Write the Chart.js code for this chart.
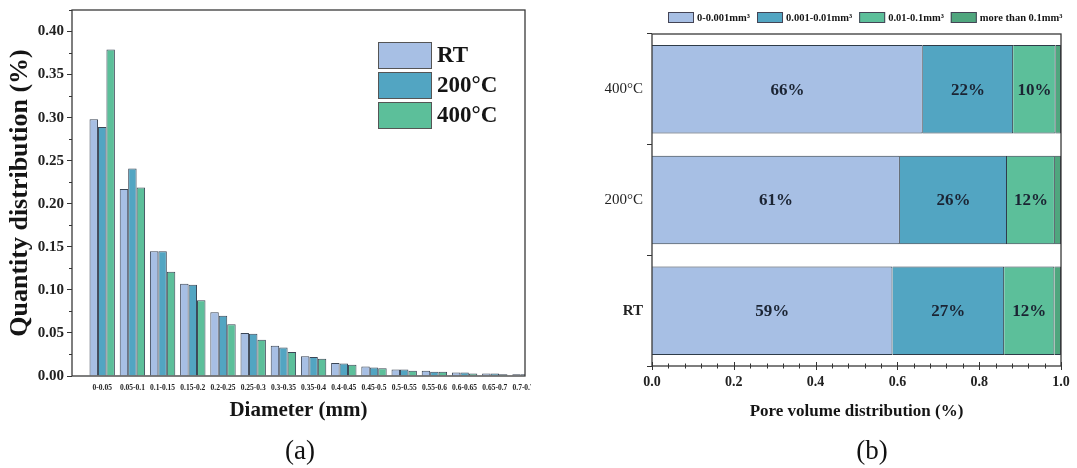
<!DOCTYPE html>
<html>
<head>
<meta charset="utf-8">
<script src="https://cdn.jsdelivr.net/npm/chart.js@4.4.1/dist/chart.umd.min.js"></script>
<style>
html,body{margin:0;padding:0;background:#fff;width:1077px;height:468px;overflow:hidden;}
#wa{position:absolute;left:0;top:0;width:531px;height:468px;}
#wb{position:absolute;left:545px;top:0;width:532px;height:468px;}
.cap{position:absolute;font:27px 'Liberation Serif','Times New Roman',serif;color:#111;transform:translateX(-50%);line-height:31px;}
</style>
</head>
<body>
<div id="wa"><canvas id="ca"></canvas></div>
<div id="wb"><canvas id="cb"></canvas></div>
<div class="cap" style="left:300px;top:435px">(a)</div>
<div class="cap" style="left:872px;top:435px">(b)</div>
<script>
// ---------- data: panel (a) ----------
const diameterBins = ['0-0.05','0.05-0.1','0.1-0.15','0.15-0.2','0.2-0.25','0.25-0.3','0.3-0.35','0.35-0.4','0.4-0.45','0.45-0.5','0.5-0.55','0.55-0.6','0.6-0.65','0.65-0.7','0.7-0.75'];
const quantitySeries = ['RT','200°C','400°C'];
const quantityRT  = [0.298,0.217,0.145,0.107,0.074,0.050,0.035,0.023,0.015,0.011,0.0075,0.006,0.004,0.003,0.002];
const quantity200 = [0.289,0.241,0.145,0.106,0.070,0.049,0.033,0.022,0.0145,0.010,0.0075,0.005,0.004,0.003,0.002];
const quantity400 = [0.379,0.219,0.121,0.088,0.060,0.042,0.028,0.020,0.013,0.009,0.006,0.005,0.003,0.002,0.0015];

// ---------- data: panel (b) ----------
const poreGroups  = ['RT','200°C','400°C'];
const poreClasses = ['0-0.001mm³','0.001-0.01mm³','0.01-0.1mm³','more than 0.1mm³'];
const poreSmall   = [0.588,0.606,0.662];
const poreMedium  = [0.273,0.262,0.221];
const poreLarge   = [0.123,0.117,0.104];
const poreHuge    = [0.016,0.015,0.013];

const SERIF = "'Liberation Serif','Times New Roman',serif";
const INK = '#151515';
const colA = ['#a7bfe4','#52a5c2','#5cbf9a'];
const colB = ['#a7bfe4','#52a5c2','#5cbf9a','#4fa67e'];

const framePlugin = {
  id:'frame',
  afterDraw(chart){
    const a = chart.chartArea, c = chart.ctx;
    c.save(); c.strokeStyle='#3a3a3a'; c.lineWidth=1.3;
    c.strokeRect(a.left, a.top, a.right-a.left, a.bottom-a.top);
    c.restore();
  }
};

// ---------- chart (a) ----------
const minorA = {
  id:'minorA',
  afterDraw(chart){
    const y = chart.scales.y, a = chart.chartArea, c = chart.ctx;
    c.save(); c.strokeStyle='#333'; c.lineWidth=1;
    for (let v=0.025; v<0.425; v+=0.05){
      const p = Math.round(y.getPixelForValue(v))+0.5;
      c.beginPath(); c.moveTo(a.left-3,p); c.lineTo(a.left,p); c.stroke();
    }
    c.restore();
  }
};
const legendA = {
  id:'legendA',
  afterDraw(chart){
    const a = chart.chartArea, c = chart.ctx;
    const x0 = a.right-147, y0 = a.top+32;
    c.save();
    chart.data.datasets.forEach((ds,i)=>{
      const y = y0 + i*30;
      c.fillStyle = ds.backgroundColor; c.fillRect(x0,y,54,27);
      c.strokeStyle='#555'; c.lineWidth=1; c.strokeRect(x0+0.5,y+0.5,53,26);
      c.fillStyle = INK; c.font = 'bold 23px '+SERIF; c.textBaseline='middle'; c.textAlign='left';
      c.fillText(ds.label, x0+59, y+14);
    });
    c.restore();
  }
};

new Chart(document.getElementById('ca'), {
  type:'bar',
  data:{
    datasets:[quantityRT, quantity200, quantity400].map((arr,k)=>({
      label: quantitySeries[k],
      data: arr.map((v,i)=>({x:i, y:v})),
      backgroundColor: colA[k],
      borderColor:'#3b4656',
      borderWidth:1,
      categoryPercentage:0.84,
      barPercentage:1
    }))
  },
  options:{
    responsive:true, maintainAspectRatio:false, animation:false,
    layout:{padding:{left:5,right:6,top:10,bottom:45}, autoPadding:false},
    plugins:{legend:{display:false}, tooltip:{enabled:false}},
    scales:{
      x:{
        type:'linear', min:-1, max:14, offset:false,
        grid:{display:false}, border:{display:false},
        ticks:{stepSize:1, autoSkip:false, maxRotation:0, minRotation:0, includeBounds:false, padding:0, color:'#222',
               font:{family:SERIF,size:7.5,weight:'bold'},
               callback:(v)=>{ const s = diameterBins[Math.round(v)]; return s===undefined ? '' : s; }},
        title:{display:true, text:'Diameter (mm)', color:INK, font:{family:SERIF,size:21,weight:'bold'}, padding:0},
        afterFit:(s)=>{ s.height=47; s.paddingLeft=0; s.paddingRight=0; }
      },
      y:{
        min:0, max:0.425,
        grid:{display:true, drawOnChartArea:false, tickLength:5, color:'#333', lineWidth:1}, border:{display:false},
        ticks:{stepSize:0.05, includeBounds:false, padding:3, color:'#222',
               font:{family:SERIF,size:15,weight:'bold'}, callback:(v)=>Number(v).toFixed(2)},
        title:{display:true, text:'Quantity distribution (%)', color:INK, font:{family:SERIF,size:26,weight:'bold'}, padding:0},
        afterFit:(s)=>{ s.width=67; s.paddingTop=0; s.paddingBottom=0; }
      }
    }
  },
  plugins:[framePlugin, minorA, legendA]
});

// ---------- chart (b) ----------
const barLabelsB = {
  id:'barLabelsB',
  afterDatasetsDraw(chart){
    const c = chart.ctx;
    c.save(); c.fillStyle='#1b2433'; c.font='bold 17px '+SERIF; c.textAlign='center'; c.textBaseline='middle';
    chart.data.datasets.forEach((ds,di)=>{
      if (di>2) return;
      chart.getDatasetMeta(di).data.forEach((el,i)=>{
        const v = ds.data[i];
        c.fillText(Math.round(v*100)+'%', (el.x+el.base)/2, el.y+1);
      });
    });
    c.restore();
  }
};
const legendB = {
  id:'legendB',
  afterDraw(chart){
    const a = chart.chartArea, c = chart.ctx;
    let x = a.left+16; const y = 12;
    c.save(); c.font='bold 10.5px '+SERIF; c.textBaseline='middle'; c.textAlign='left';
    chart.data.datasets.forEach((ds)=>{
      c.fillStyle = ds.backgroundColor; c.fillRect(x,y,26,11);
      c.strokeStyle='#445'; c.lineWidth=1; c.strokeRect(x+0.5,y+0.5,25,10);
      c.fillStyle = INK; c.fillText(ds.label, x+29, y+6);
      x += 29 + c.measureText(ds.label).width + 7;
    });
    c.restore();
  }
};
const ticksB = {
  id:'ticksB',
  afterDraw(chart){
    const xs = chart.scales.x, a = chart.chartArea, c = chart.ctx;
    c.save(); c.strokeStyle='#333'; c.lineWidth=1;
    for (let k=0;k<=25;k++){
      const v = k*0.04;
      const p = Math.round(xs.getPixelForValue(v))+0.5;
      const major = (k%5===0);
      const h = major ? 4 : 2.5;
      c.beginPath(); c.moveTo(p,a.bottom-h); c.lineTo(p,a.bottom+h); c.stroke();
    }
    c.restore();
  }
};

new Chart(document.getElementById('cb'), {
  type:'bar',
  data:{
    labels: poreGroups,
    datasets:[poreSmall, poreMedium, poreLarge, poreHuge].map((arr,k)=>({
      label: poreClasses[k],
      data: arr,
      backgroundColor: colB[k],
      borderColor:'#2e3b48',
      borderWidth:1,
      barPercentage:0.8,
      categoryPercentage:1
    }))
  },
  options:{
    indexAxis:'y',
    responsive:true, maintainAspectRatio:false, animation:false,
    layout:{padding:{left:0,right:16,top:34,bottom:46}, autoPadding:false},
    plugins:{legend:{display:false}, tooltip:{enabled:false}},
    scales:{
      x:{
        stacked:true, min:0, max:1,
        grid:{display:false}, border:{display:false},
        ticks:{stepSize:0.2, padding:0, color:'#222', font:{family:SERIF,size:14,weight:'bold'},
               callback:(v)=>Number(v).toFixed(1)},
        title:{display:true, text:'Pore volume distribution (%)', color:INK, font:{family:SERIF,size:17,weight:'bold'}, padding:0},
        afterFit:(s)=>{ s.height=56; s.paddingLeft=0; s.paddingRight=0; }
      },
      y:{
        stacked:true, reverse:true,
        grid:{display:true, drawOnChartArea:false, offset:true, tickLength:5, color:'#333', lineWidth:1}, border:{display:false},
        ticks:{padding:4, color:'#222',
               font:(ctx)=>({family:SERIF, size:15, weight:(ctx.tick && ctx.tick.label==='RT') ? 'bold' : 'normal'})},
        afterFit:(s)=>{ s.width=107; s.paddingTop=0; s.paddingBottom=0; }
      }
    }
  },
  plugins:[framePlugin, barLabelsB, legendB, ticksB]
});
</script>
</body>
</html>
